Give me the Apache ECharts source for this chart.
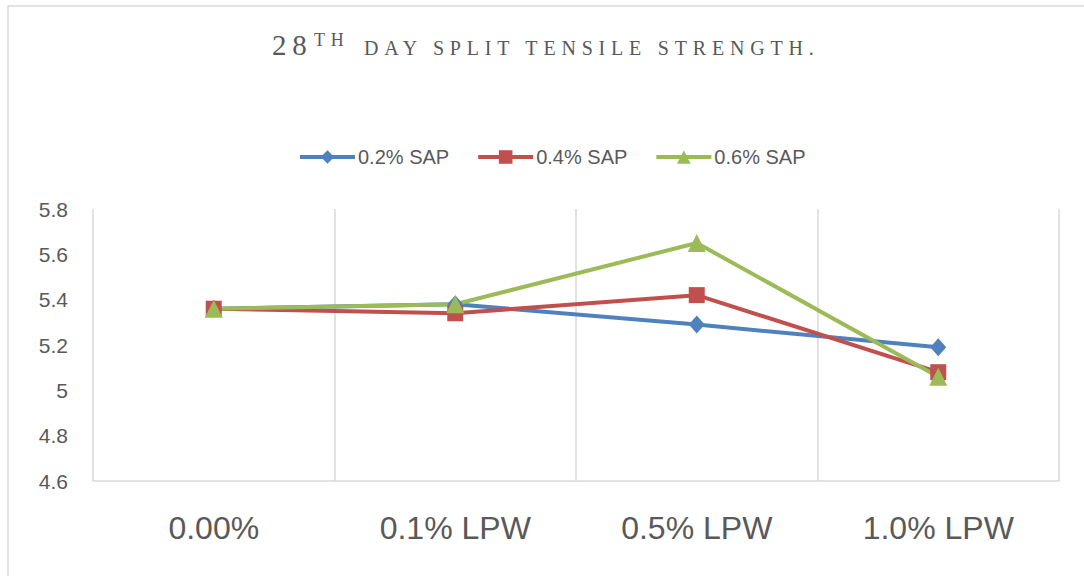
<!DOCTYPE html>
<html>
<head>
<meta charset="utf-8">
<script src="https://cdn.jsdelivr.net/npm/echarts@6/dist/echarts.min.js"></script>
<style>
  html, body { margin: 0; padding: 0; background: #fff; }
  #chart { width: 1084px; height: 576px; }
  /* title is spaced out like the Word small caps */
  #chart text[style*="Liberation Serif"] { letter-spacing: 5.8px; }
</style>
</head>
<body>
<div id="chart"></div>
<script>
// categories and values
const categories = ['0.00%', '0.1% LPW', '0.5% LPW', '1.0% LPW'];
const sap02 = [5.36, 5.38, 5.29, 5.19];
const sap04 = [5.36, 5.34, 5.42, 5.08];
const sap06 = [5.36, 5.38, 5.65, 5.06];
const seriesNames = ['0.2% SAP', '0.4% SAP', '0.6% SAP'];

const grey = '#595959';
const gridGrey = '#d9d9d9';
const serif = "Liberation Serif";
const sans = "Liberation Sans";

const chart = echarts.init(document.getElementById('chart'), null, { renderer: 'svg' });

function makeSeries(name, data, color, symbol, size) {
  return {
    name: name,
    type: 'line',
    data: data,
    symbol: symbol,
    symbolSize: size,
    showAllSymbol: true,
    itemStyle: { color: color },
    lineStyle: { color: color, width: 4 },
    emphasis: { disabled: true },
    animation: false
  };
}

function titleText(text, left, top, size) {
  return {
    type: 'text', left: left, top: top, silent: true,
    style: { text: text, fontSize: size, fontFamily: serif, fill: grey }
  };
}

chart.setOption({
  backgroundColor: '#fff',
  animation: false,
  graphic: [
    // outer chart frame
    {
      type: 'rect',
      shape: { x: 8, y: 6, width: 1200, height: 700 },
      style: { fill: 'none', stroke: gridGrey, lineWidth: 1.5 },
      silent: true
    },
    titleText('28', 272, 30, 29),
    titleText('TH', 314, 31, 18),
    titleText('DAY SPLIT TENSILE STRENGTH.', 364, 38, 20)
  ],
  legend: {
    top: 142,
    left: 293,
    itemWidth: 55,
    itemHeight: 17,
    itemGap: 27,
    data: seriesNames,
    lineStyle: { width: 4 },
    textStyle: { color: grey, fontSize: 20, fontFamily: sans, padding: [0, 0, 0, -2] },
    selectedMode: false
  },
  grid: { left: 93, right: 25, top: 209, bottom: 95, containLabel: false },
  xAxis: {
    type: 'category',
    data: categories,
    boundaryGap: true,
    axisLine: { show: true, lineStyle: { color: gridGrey, width: 1.5 } },
    axisTick: { show: false },
    splitLine: { show: true, lineStyle: { color: gridGrey, width: 1.5 } },
    axisLabel: { color: grey, fontSize: 32, fontFamily: sans, margin: 31, interval: 0 }
  },
  yAxis: {
    type: 'value',
    min: 4.6,
    max: 5.8,
    interval: 0.2,
    axisLine: { show: false },
    axisTick: { show: false },
    splitLine: { show: false },
    axisLabel: { color: grey, fontSize: 21, fontFamily: sans, margin: 25 }
  },
  series: [
    makeSeries(seriesNames[0], sap02, '#4F81BD', 'diamond', [16, 18]),
    makeSeries(seriesNames[1], sap04, '#C0504D', 'rect', 16),
    makeSeries(seriesNames[2], sap06, '#9BBB59', 'triangle', 18)
  ]
});
</script>
</body>
</html>
